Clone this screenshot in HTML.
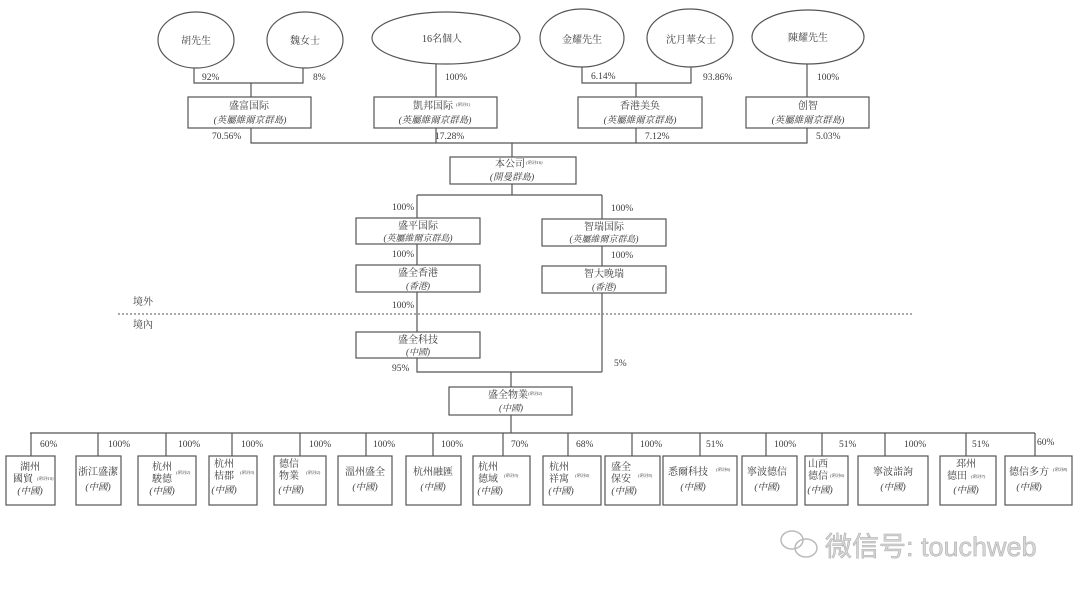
<!DOCTYPE html>
<html><head><meta charset="utf-8"><style>
html,body{margin:0;padding:0;background:#fff;}
svg{display:block;}
text{font-family:"Liberation Serif","Noto Serif CJK SC","Noto Sans CJK TC",serif;fill:#3a3a3a;}
.t{font-size:10px;}
.i{font-size:9.5px;font-style:italic;}
.s{font-size:9px;font-style:italic;}
.p{font-size:9.5px;}
.n{font-size:4.5px;font-style:italic;}
</style></head><body>
<svg width="1080" height="594" viewBox="0 0 1080 594" xmlns="http://www.w3.org/2000/svg">
<g fill="none" stroke="#555" stroke-width="1.2">
<ellipse cx="196" cy="40" rx="38" ry="28"/>
<ellipse cx="305" cy="40" rx="38" ry="28"/>
<ellipse cx="446" cy="38" rx="74" ry="26"/>
<ellipse cx="582" cy="38" rx="42" ry="29"/>
<ellipse cx="690" cy="38" rx="43" ry="29"/>
<ellipse cx="808" cy="37" rx="56" ry="27"/>
<path d="M194 68V83H303V68M251 83V97"/>
<path d="M436 64V97"/>
<path d="M582 67V83H691V67M636 83V97"/>
<path d="M807 64V97"/>
<rect x="188" y="97" width="123" height="31"/>
<rect x="374" y="97" width="123" height="31"/>
<rect x="578" y="97" width="124" height="31"/>
<rect x="746" y="97" width="123" height="31"/>
<path d="M251 128V143H807V128M436 128V143M636 128V143M512 143V157"/>
<rect x="450" y="157" width="126" height="27"/>
<path d="M512 184V195M417 195H602M417 195V218M602 195V219"/>
<rect x="356" y="218" width="124" height="26"/>
<rect x="542" y="219" width="124" height="27"/>
<path d="M417 244V265M602 246V266"/>
<rect x="356" y="265" width="124" height="27"/>
<rect x="542" y="266" width="124" height="27"/>
<path d="M417 292V332M602 293V372M417 358V372H602M511 372V387"/>
<rect x="356" y="332" width="124" height="26"/>
<rect x="449" y="387" width="123" height="28"/>
<path d="M511 415V433M30 433H1035"/>
<path d="M31 433V456M98 433V456M166 433V456M232 433V456M300 433V456M366 433V456M433 433V456M503 433V456M568 433V456M632 433V456M700 433V456M766 433V456M822 433V456M885 433V456M966 433V456M1035 433V456"/>
<rect x="6" y="456" width="49" height="49"/>
<rect x="76" y="456" width="45" height="49"/>
<rect x="138" y="456" width="58" height="49"/>
<rect x="209" y="456" width="48" height="49"/>
<rect x="274" y="456" width="52" height="49"/>
<rect x="338" y="456" width="54" height="49"/>
<rect x="406" y="456" width="55" height="49"/>
<rect x="473" y="456" width="57" height="49"/>
<rect x="543" y="456" width="58" height="49"/>
<rect x="605" y="456" width="55" height="49"/>
<rect x="663" y="456" width="74" height="49"/>
<rect x="742" y="456" width="55" height="49"/>
<rect x="805" y="456" width="43" height="49"/>
<rect x="858" y="456" width="70" height="49"/>
<rect x="940" y="456" width="56" height="49"/>
<rect x="1005" y="456" width="67" height="49"/>
</g>
<path d="M118 314H912" stroke="#777" stroke-width="1.2" stroke-dasharray="2,2" fill="none"/>

<g class="t" text-anchor="middle">
<text x="196" y="44">胡先生</text>
<text x="305" y="44">魏女士</text>
<text x="442" y="42">16名個人</text>
<text x="582" y="43">金耀先生</text>
<text x="691" y="43">沈月華女士</text>
<text x="808" y="41">陳耀先生</text>
<text x="249" y="109">盛富国际</text>
<text x="433" y="109">凱邦国际</text>
<text x="640" y="109">香港美奂</text>
<text x="808" y="109">创智</text>
<text x="510" y="167">本公司</text>
<text x="418" y="229">盛平国际</text>
<text x="604" y="230">智瑞国际</text>
<text x="418" y="276">盛全香港</text>
<text x="604" y="277">智大晚瑞</text>
<text x="418" y="343">盛全科技</text>
<text x="508" y="398">盛全物業</text>
</g>
<g class="i" text-anchor="middle">
<text x="250" y="123">(英屬維爾京群島)</text>
<text x="435" y="123">(英屬維爾京群島)</text>
<text x="640" y="123">(英屬維爾京群島)</text>
<text x="808" y="123">(英屬維爾京群島)</text>
<text x="512" y="180">(開曼群島)</text>
</g>
<g class="s" text-anchor="middle">
<text x="418" y="241">(英屬維爾京群島)</text>
<text x="604" y="242">(英屬維爾京群島)</text>
<text x="418" y="289">(香港)</text>
<text x="604" y="290">(香港)</text>
<text x="418" y="355">(中國)</text>
<text x="511" y="411">(中國)</text>
</g>
<g class="n">
<text x="456" y="106">(附註1)</text>
<text x="526" y="164">(附註16)</text>
<text x="528" y="395">(附註2)</text>
</g>
<g class="p">
<text x="202" y="80">92%</text>
<text x="313" y="80">8%</text>
<text x="445" y="80">100%</text>
<text x="591" y="79">6.14%</text>
<text x="703" y="80">93.86%</text>
<text x="817" y="80">100%</text>
<text x="212" y="139">70.56%</text>
<text x="435" y="139">17.28%</text>
<text x="645" y="139">7.12%</text>
<text x="816" y="139">5.03%</text>
<text x="392" y="210">100%</text>
<text x="611" y="211">100%</text>
<text x="392" y="257">100%</text>
<text x="611" y="258">100%</text>
<text x="392" y="308">100%</text>
<text x="392" y="371">95%</text>
<text x="614" y="366">5%</text>
<text x="133" y="305" class="t">境外</text>
<text x="133" y="328" class="t">境內</text>
<text x="40" y="447">60%</text>
<text x="108" y="447">100%</text>
<text x="178" y="447">100%</text>
<text x="241" y="447">100%</text>
<text x="309" y="447">100%</text>
<text x="373" y="447">100%</text>
<text x="441" y="447">100%</text>
<text x="511" y="447">70%</text>
<text x="576" y="447">68%</text>
<text x="640" y="447">100%</text>
<text x="706" y="447">51%</text>
<text x="774" y="447">100%</text>
<text x="839" y="447">51%</text>
<text x="904" y="447">100%</text>
<text x="972" y="447">51%</text>
<text x="1037" y="445">60%</text>
</g>
<g class="t" text-anchor="middle">
<text x="30" y="470">湖州</text><text x="23" y="482">國貿</text><text x="30" y="494" class="i">(中國)</text>
<text x="98" y="475">浙江盛潔</text><text x="98" y="490" class="i">(中國)</text>
<text x="162" y="470">杭州</text><text x="162" y="482">駿德</text><text x="162" y="494" class="i">(中國)</text>
<text x="224" y="467">杭州</text><text x="224" y="479">桔郡</text><text x="224" y="493" class="i">(中國)</text>
<text x="289" y="467">德信</text><text x="289" y="479">物業</text><text x="291" y="493" class="i">(中國)</text>
<text x="365" y="475">溫州盛全</text><text x="365" y="490" class="i">(中國)</text>
<text x="433" y="475">杭州融匯</text><text x="433" y="490" class="i">(中國)</text>
<text x="488" y="470">杭州</text><text x="488" y="482">德域</text><text x="490" y="494" class="i">(中國)</text>
<text x="559" y="470">杭州</text><text x="559" y="482">祥寓</text><text x="561" y="494" class="i">(中國)</text>
<text x="621" y="470">盛全</text><text x="621" y="482">保安</text><text x="624" y="494" class="i">(中國)</text>
<text x="688" y="475">悉爾科技</text><text x="693" y="490" class="i">(中國)</text>
<text x="767" y="475">寧波德信</text><text x="767" y="490" class="i">(中國)</text>
<text x="818" y="467">山西</text><text x="818" y="479">德信</text><text x="820" y="493" class="i">(中國)</text>
<text x="893" y="475">寧波詣訽</text><text x="893" y="490" class="i">(中國)</text>
<text x="966" y="467">邳州</text><text x="957" y="479">德田</text><text x="966" y="493" class="i">(中國)</text>
<text x="1029" y="475">德信多方</text><text x="1029" y="490" class="i">(中國)</text>
</g>
<g class="n">
<text x="37" y="480">(附註10)</text>
<text x="176" y="474">(附註2)</text>
<text x="240" y="474">(附註3)</text>
<text x="306" y="474">(附註2)</text>
<text x="504" y="477">(附註3)</text>
<text x="575" y="477">(附註4)</text>
<text x="638" y="477">(附註5)</text>
<text x="716" y="471">(附註6)</text>
<text x="830" y="477">(附註6)</text>
<text x="971" y="478">(附註7)</text>
<text x="1053" y="471">(附註8)</text>
</g>
<g fill="none" stroke="#bbb" stroke-width="1.5">
<ellipse cx="792" cy="540" rx="11" ry="9"/>
<ellipse cx="806" cy="548" rx="11" ry="9"/>
</g>
<text x="825" y="556" style="font-family:'Liberation Sans','Noto Sans CJK SC',sans-serif;font-size:27px;fill:#d6d6d6;stroke:#a8a8a8;stroke-width:0.5;">微信号: touchweb</text>
</svg>
</body></html>
